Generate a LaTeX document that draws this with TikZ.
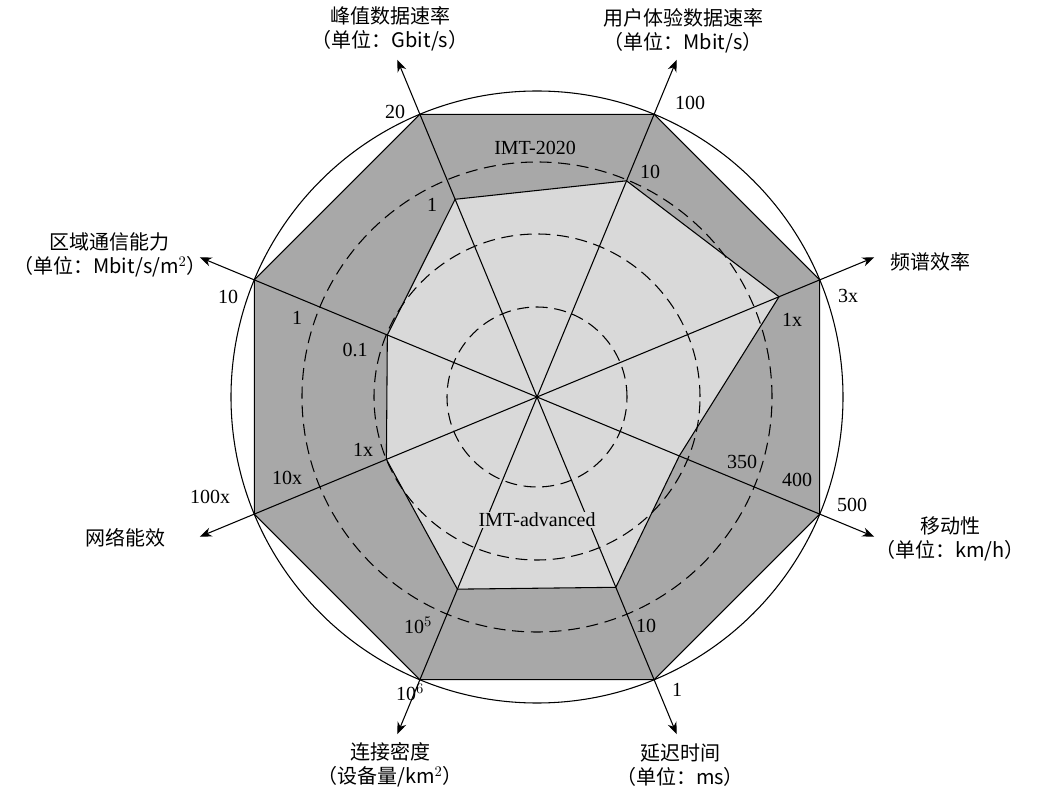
\documentclass[tikz,border=0pt]{standalone}
\usepackage{fontspec}
\setmainfont{Liberation Serif}
\newfontfamily\cjk{Noto Sans CJK SC}
\usetikzlibrary{arrows.meta}
\usetikzlibrary{calc}
\definecolor{outgray}{HTML}{A8A8A8}
\definecolor{ingray}{HTML}{D9D9D9}
\begin{document}
\begin{tikzpicture}[x=0.75pt, y=0.75pt, >={Stealth[length=9pt,width=7pt]},
    every node/.style={font=\fontsize{15}{17}\selectfont},
    lbl/.style={font=\cjk\fontsize{15}{18}\selectfont, align=center},
    num/.style={font=\fontsize{15}{17}\selectfont, inner sep=1pt}
  ]
  \useasboundingbox (0,0) rectangle (1047,797);

  % centre of the chart
  \coordinate (c) at (537,400);

  % octagon vertices, inner polygon points, arrow ends
  \foreach \i/\a/\r in {1/112.5/214, 2/67.5/234, 3/22.5/262, 4/-22.5/154,
                        5/-67.5/206, 6/-112.5/208, 7/202.5/163, 8/157.5/162} {
    \coordinate (o\i) at ($(c)+(\a:306)$);
    \coordinate (i\i) at ($(c)+(\a:\r)$);
    \coordinate (a\i) at ($(c)+(\a:365)$);
  }

  % areas
  \fill[outgray] (o1) -- (o2) -- (o3) -- (o4) -- (o5) -- (o6) -- (o7) -- (o8) -- cycle;
  \filldraw[fill=ingray, thick] (i1) -- (i2) -- (i3) -- (i4) -- (i5) -- (i6) -- (i7) -- (i8) -- cycle;
  \draw[thick] (o1) -- (o2) -- (o3) -- (o4) -- (o5) -- (o6) -- (o7) -- (o8) -- cycle;

  % dashed rings and outer circle
  \foreach \r in {90,163,235}
    \draw[thick, dashed, dash pattern=on 9pt off 5pt] (c) circle (\r);
  \draw[thick] (c) circle (306);

  % axes
  \foreach \i in {1,...,8}
    \draw[thick, ->] (c) -- (a\i);

  % axis titles
  \node[lbl] (t1) at (390,768) {峰值数据速率\\（单位：Gbit/s）};
  \node[lbl] (t2) at (683,766) {用户体验数据速率\\（单位：Mbit/s）};
  \node[lbl] (t3) at (930,535) {频谱效率};
  \node[lbl] (t4) at (950,258) {移动性\\（单位：km/h）};
  \node[lbl] (t5) at (680,32) {延迟时间\\（单位：ms）};
  \node[lbl] (t6) at (390,32) {连接密度\\（设备量/km$^2$）};
  \node[lbl] (t7) at (125,259) {网络能效};
  \node[lbl] (t8) at (110,542) {区域通信能力\\（单位：Mbit/s/m$^2$）};

  % scale values
  \node[num] (n1a) at (395,685) {20};
  \node[num] (n1b) at (432,592) {1};
  \node[num] (n2a) at (690,694) {100};
  \node[num] (n2b) at (650,625) {10};
  \node[num] (n3a) at (848,501) {3x};
  \node[num] (n3b) at (792,477) {1x};
  \node[num] (n4a) at (852,292) {500};
  \node[num] (n4b) at (797,317) {400};
  \node[num] (n4c) at (742,335) {350};
  \node[num] (n5a) at (677,107) {1};
  \node[num] (n5b) at (646,171) {10};
  \node[num] (n6a) at (410,105) {10$^6$};
  \node[num] (n6b) at (418,172) {10$^5$};
  \node[num] (n7a) at (210,300) {100x};
  \node[num] (n7b) at (287,319) {10x};
  \node[num] (n7c) at (363,347) {1x};
  \node[num] (n8a) at (228,500) {10};
  \node[num] (n8b) at (297,479) {1};
  \node[num] (n8c) at (355,447) {0.1};
  \node[num] (imt20) at (535,649) {IMT-2020};
  \node[num, fill=ingray] (imtadv) at (537,277) {IMT-advanced};
\end{tikzpicture}
\end{document}
